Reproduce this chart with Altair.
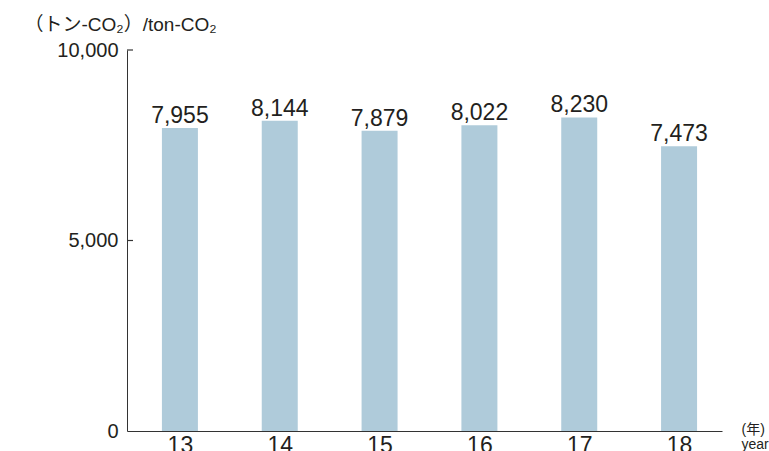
import altair as alt
import pandas as pd

years = [13, 14, 15, 16, 17, 18]
values = [7955, 8144, 7879, 8022, 8230, 7473]
y_tick_values = [0, 5000, 10000]
inner_ticks = [5000, 10000]

FONT = "Liberation Sans, Noto Sans CJK JP, sans-serif"
BAR = "#afcbda"
INK = "#231f20"

df = pd.DataFrame({"year": years, "value": values})
tdf = pd.DataFrame({"value": inner_ticks})

x = alt.X(
    "year:Q",
    scale=alt.Scale(domain=[12.47, 18.43], nice=False, zero=False, padding=0),
    axis=alt.Axis(
        values=years, format="d", ticks=False, tickSize=0, grid=False,
        labelPadding=3, labelFontSize=23, labelColor=INK, labelFont=FONT,
        domainColor="#333", domainWidth=1,
        title=["(年)", "year"], titleX=614, titleY=2, titleAlign="left",
        titleBaseline="alphabetic", titleFontSize=14, titleFontWeight="normal",
        titleLineHeight=15, titleColor=INK, titleFont=FONT,
    ),
)
y = alt.Y(
    "value:Q",
    scale=alt.Scale(domain=[0, 10000], nice=False, padding=0),
    axis=alt.Axis(
        values=y_tick_values, format=",d", ticks=False, tickSize=0, grid=False,
        labelPadding=9, labelFontSize=20, labelColor=INK, labelFont=FONT,
        domainColor="#333", domainWidth=1,
        title="（トン-CO₂）/ton-CO₂", titleAngle=0, titleX=-103, titleY=-20,
        titleAlign="left", titleBaseline="alphabetic", titleFontSize=19,
        titleFontWeight="normal", titleColor=INK, titleFont=FONT,
    ),
)

bars = alt.Chart(df).mark_bar(size=36, color=BAR).encode(x=x, y=y)
labels = alt.Chart(df).mark_text(
    dy=-5, baseline="alphabetic", fontSize=23, font=FONT, color=INK
).encode(x=alt.X("year:Q"), y=alt.Y("value:Q"), text=alt.Text("value:Q", format=",d"))
ticks = alt.Chart(tdf).mark_rule(color="#333", strokeWidth=1.2).encode(
    y=alt.Y("value:Q"), x=alt.value(0), x2=alt.value(6)
)

chart = alt.layer(bars, labels, ticks).properties(
    width=595, height=381,
    autosize=alt.AutoSizeParams(type="none"),
    padding={"left": 127, "top": 50, "right": 47, "bottom": 20},
).configure(
    background="white",
    view=alt.ViewConfig(strokeWidth=0, stroke="transparent"),
)

chart.save("out.html", embed_options={"renderer": "svg", "actions": False})
